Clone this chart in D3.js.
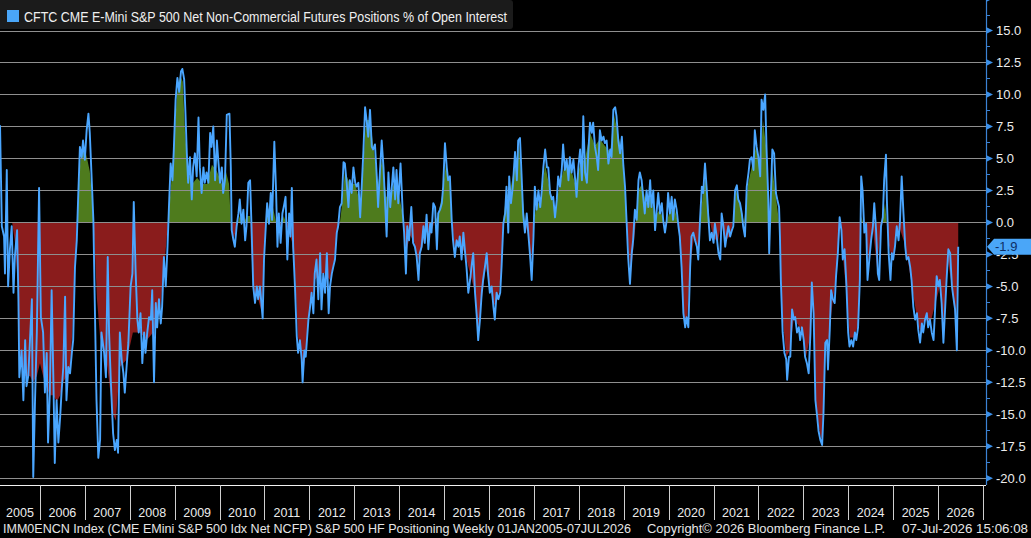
<!DOCTYPE html>
<html>
<head>
<meta charset="utf-8">
<script src="https://cdn.jsdelivr.net/npm/d3@7"></script>
<style>
  body { margin: 0; background: #000; }
  svg { display: block; }
</style>
</head>
<body>
<svg id="chart" width="1031" height="538"></svg>
<script>
// weekly net non-commercial position, % of open interest (decimal year -> value)
const obsYears = [
  2005.11, 2005.15, 2005.20, 2005.22, 2005.26, 2005.29, 2005.33, 2005.37, 2005.41, 2005.44, 2005.49, 2005.52,
  2005.54, 2005.59, 2005.63, 2005.67, 2005.70, 2005.74, 2005.82, 2005.85, 2005.89, 2005.93, 2005.98, 2006.02,
  2006.07, 2006.11, 2006.15, 2006.18, 2006.22, 2006.26, 2006.30, 2006.33, 2006.37, 2006.41, 2006.45, 2006.48,
  2006.52, 2006.56, 2006.59, 2006.63, 2006.67, 2006.71, 2006.74, 2006.78, 2006.82, 2006.85, 2006.89, 2006.93,
  2006.96, 2007.00, 2007.04, 2007.08, 2007.11, 2007.15, 2007.19, 2007.22, 2007.26, 2007.30, 2007.34, 2007.37,
  2007.43, 2007.47, 2007.51, 2007.54, 2007.58, 2007.63, 2007.67, 2007.71, 2007.74, 2007.78, 2007.82, 2007.86,
  2007.89, 2007.93, 2007.97, 2008.02, 2008.06, 2008.09, 2008.13, 2008.17, 2008.20, 2008.24, 2008.28, 2008.32,
  2008.35, 2008.39, 2008.43, 2008.47, 2008.50, 2008.54, 2008.58, 2008.61, 2008.65, 2008.69, 2008.72, 2008.76,
  2008.80, 2008.84, 2008.87, 2008.91, 2008.95, 2008.98, 2009.02, 2009.06, 2009.10, 2009.14, 2009.17, 2009.21,
  2009.24, 2009.27, 2009.30, 2009.34, 2009.38, 2009.41, 2009.45, 2009.49, 2009.53, 2009.56, 2009.60, 2009.64,
  2009.67, 2009.71, 2009.75, 2009.79, 2009.82, 2009.86, 2009.90, 2009.94, 2009.97, 2010.01, 2010.05, 2010.08,
  2010.12, 2010.16, 2010.22, 2010.25, 2010.27, 2010.31, 2010.34, 2010.38, 2010.42, 2010.45, 2010.49, 2010.53,
  2010.57, 2010.60, 2010.64, 2010.68, 2010.71, 2010.75, 2010.79, 2010.83, 2010.86, 2010.90, 2010.96, 2010.99,
  2011.03, 2011.06, 2011.10, 2011.14, 2011.17, 2011.22, 2011.26, 2011.29, 2011.32, 2011.36, 2011.40, 2011.43,
  2011.47, 2011.51, 2011.55, 2011.58, 2011.61, 2011.64, 2011.68, 2011.72, 2011.75, 2011.79, 2011.83, 2011.85,
  2011.89, 2011.92, 2011.98, 2012.01, 2012.05, 2012.09, 2012.12, 2012.16, 2012.20, 2012.24, 2012.27, 2012.31,
  2012.35, 2012.39, 2012.43, 2012.46, 2012.50, 2012.53, 2012.57, 2012.61, 2012.64, 2012.68, 2012.72, 2012.76,
  2012.79, 2012.83, 2012.87, 2012.90, 2012.94, 2012.98, 2013.02, 2013.05, 2013.09, 2013.13, 2013.16, 2013.20,
  2013.24, 2013.28, 2013.31, 2013.35, 2013.39, 2013.42, 2013.46, 2013.50, 2013.53, 2013.57, 2013.61, 2013.65,
  2013.68, 2013.72, 2013.76, 2013.80, 2013.83, 2013.87, 2013.91, 2013.94, 2013.98, 2014.03, 2014.08, 2014.11,
  2014.15, 2014.18, 2014.22, 2014.27, 2014.31, 2014.35, 2014.39, 2014.43, 2014.46, 2014.50, 2014.54, 2014.57,
  2014.61, 2014.65, 2014.69, 2014.72, 2014.76, 2014.80, 2014.84, 2014.87, 2014.91, 2014.95, 2014.98, 2015.02,
  2015.06, 2015.09, 2015.13, 2015.17, 2015.20, 2015.24, 2015.28, 2015.32, 2015.35, 2015.39, 2015.43, 2015.47,
  2015.50, 2015.54, 2015.58, 2015.62, 2015.65, 2015.69, 2015.73, 2015.76, 2015.80, 2015.84, 2015.87, 2015.91,
  2015.95, 2015.98, 2016.02, 2016.06, 2016.10, 2016.13, 2016.17, 2016.21, 2016.25, 2016.28, 2016.32, 2016.36,
  2016.39, 2016.43, 2016.45, 2016.49, 2016.53, 2016.58, 2016.62, 2016.65, 2016.69, 2016.73, 2016.76, 2016.80,
  2016.84, 2016.88, 2016.91, 2016.95, 2016.99, 2017.02, 2017.06, 2017.10, 2017.14, 2017.17, 2017.21, 2017.25,
  2017.29, 2017.32, 2017.36, 2017.40, 2017.43, 2017.47, 2017.51, 2017.54, 2017.58, 2017.62, 2017.65, 2017.69,
  2017.73, 2017.77, 2017.80, 2017.84, 2017.88, 2017.92, 2017.95, 2017.99, 2018.03, 2018.07, 2018.10, 2018.14,
  2018.18, 2018.21, 2018.25, 2018.29, 2018.32, 2018.36, 2018.40, 2018.43, 2018.47, 2018.51, 2018.55, 2018.58,
  2018.62, 2018.66, 2018.70, 2018.73, 2018.77, 2018.81, 2018.84, 2018.88, 2018.92, 2018.96, 2018.99, 2019.03,
  2019.07, 2019.10, 2019.14, 2019.18, 2019.21, 2019.25, 2019.29, 2019.33, 2019.36, 2019.40, 2019.44, 2019.47,
  2019.51, 2019.55, 2019.59, 2019.62, 2019.66, 2019.70, 2019.73, 2019.77, 2019.81, 2019.85, 2019.88, 2019.92,
  2019.96, 2019.99, 2020.03, 2020.07, 2020.10, 2020.14, 2020.18, 2020.22, 2020.25, 2020.29, 2020.33, 2020.37,
  2020.40, 2020.44, 2020.48, 2020.51, 2020.55, 2020.59, 2020.63, 2020.66, 2020.70, 2020.74, 2020.77, 2020.81,
  2020.85, 2020.88, 2020.92, 2020.96, 2021.00, 2021.03, 2021.07, 2021.11, 2021.15, 2021.18, 2021.22, 2021.26,
  2021.29, 2021.33, 2021.37, 2021.41, 2021.44, 2021.48, 2021.52, 2021.55, 2021.59, 2021.63, 2021.66, 2021.70,
  2021.74, 2021.78, 2021.81, 2021.85, 2021.89, 2021.92, 2021.96, 2022.00, 2022.04, 2022.07, 2022.11, 2022.15,
  2022.18, 2022.22, 2022.24, 2022.27, 2022.31, 2022.35, 2022.39, 2022.42, 2022.46, 2022.48, 2022.50, 2022.54,
  2022.58, 2022.62, 2022.64, 2022.68, 2022.71, 2022.75, 2022.79, 2022.82, 2022.86, 2022.90, 2022.93, 2022.97,
  2023.01, 2023.04, 2023.08, 2023.12, 2023.16, 2023.19, 2023.23, 2023.27, 2023.31, 2023.34, 2023.38, 2023.42,
  2023.45, 2023.49, 2023.53, 2023.55, 2023.59, 2023.62, 2023.66, 2023.70, 2023.73, 2023.77, 2023.81, 2023.85,
  2023.88, 2023.92, 2023.96, 2024.00, 2024.03, 2024.07, 2024.11, 2024.15, 2024.18, 2024.22, 2024.26, 2024.29,
  2024.32, 2024.36, 2024.40, 2024.43, 2024.47, 2024.51, 2024.55, 2024.58, 2024.62, 2024.66, 2024.69, 2024.73,
  2024.77, 2024.80, 2024.84, 2024.86, 2024.90, 2024.94, 2024.97, 2025.00, 2025.04, 2025.08, 2025.12, 2025.15,
  2025.19, 2025.23, 2025.27, 2025.30, 2025.34, 2025.38, 2025.41, 2025.45, 2025.49, 2025.53, 2025.56, 2025.60,
  2025.64, 2025.67, 2025.71, 2025.75, 2025.78, 2025.82, 2025.86, 2025.90, 2025.93, 2025.97, 2026.01, 2026.04,
  2026.08, 2026.12, 2026.16, 2026.19, 2026.23, 2026.27, 2026.31, 2026.34, 2026.38, 2026.42, 2026.45
];
const netPct = [
  7.6, -0.3, -1.1, -4.0, 4.1, -5.0, -2.1, -0.3, -5.5, -2.7, -0.6, -6.0,
  -12.1, -10.0, -13.9, -9.2, -12.8, -12.0, -6.0, -19.9, -13.9, -8.6, 2.7, -7.4,
  -8.6, -13.3, -10.2, -17.2, -13.3, -5.3, -12.5, -18.8, -13.9, -17.2, -15.2, -13.3,
  -11.3, -5.8, -13.9, -11.3, -11.8, -10.2, -9.2, -3.5, -1.4, 1.8, 5.9, 5.1,
  6.4, 4.9, 7.2, 8.5, 7.0, 3.6, 0.2, -6.0, -13.9, -18.4, -17.0, -8.6,
  -10.2, -12.1, -2.7, -8.6, -12.5, -16.5, -17.8, -17.0, -18.0, -8.6, -10.7, -11.8,
  -13.3, -11.3, -9.4, -5.0, -4.0, 1.6, -3.7, -7.6, -8.6, -7.1, -11.0, -8.6,
  -10.2, -8.6, -7.4, -7.6, -5.3, -12.5, -6.3, -8.2, -6.0, -7.9, -6.6, -2.7,
  -5.0, -1.9, 1.0, 4.6, 3.3, 5.7, 9.6, 11.3, 10.2, 11.8, 12.0, 11.2,
  8.5, 5.4, 3.1, 5.1, 1.8, 4.3, 5.4, 3.6, 8.2, 4.3, 2.3, 4.3,
  3.1, 3.9, 3.1, 7.0, 5.9, 7.5, 3.3, 6.4, 4.9, 3.1, 4.3, 2.3,
  3.3, 8.4, 8.5, 4.3, -0.6, -1.4, -1.9, -0.3, 0.7, 1.8, -0.1, 1.0,
  -1.4, -0.3, 3.1, 3.3, -0.1, -5.0, -6.3, -5.0, -6.0, -5.0, -7.5, -2.9,
  -0.3, 1.5, -0.1, 2.3, 0.2, 6.3, 2.3, -1.9, 0.7, -1.6, 0.7, 1.2,
  2.0, -2.9, 0.7, -1.1, 2.7, -1.9, -5.0, -8.9, -10.2, -9.2, -10.7, -12.5,
  -10.0, -10.5, -7.6, -6.8, -5.5, -7.1, -4.0, -2.9, -6.0, -2.4, -6.8, -4.0,
  -5.5, -2.4, -7.1, -5.0, -4.0, -3.5, -2.9, -0.8, -0.3, 1.2, 1.5, 4.7,
  4.6, 3.1, 1.2, 3.3, 2.3, 4.3, 3.1, 2.8, 3.1, 0.4, 2.5, 5.4,
  9.0, 7.8, 6.7, 8.8, 5.9, 5.7, 6.1, 3.6, 1.2, 3.9, 6.4, 4.3,
  2.0, -1.1, 3.9, 1.2, 2.5, 4.3, 1.8, 4.1, 1.5, 4.6, 0.7, -0.8,
  -4.0, -0.3, -1.4, 1.2, -1.6, -1.9, -2.7, -4.5, -2.4, -1.9, -0.3, -1.6,
  0.6, -2.1, -0.1, -0.8, 1.5, 1.2, -2.1, 0.7, 1.0, 1.5, 2.8, 6.2,
  4.3, 3.3, 3.6, 0.2, -1.4, -2.7, -1.4, -1.9, -1.1, -2.9, -0.8, -2.4,
  -3.5, -5.5, -4.5, -3.2, -2.4, -5.5, -7.4, -9.2, -7.6, -5.5, -4.5, -3.5,
  -2.4, -4.0, -5.5, -5.0, -6.6, -7.6, -5.5, -6.0, -5.5, -3.5, -0.1, 0.7,
  2.8, -0.8, 3.6, 1.5, 2.8, 5.5, 3.3, 6.4, 6.6, 3.3, 0.7, -0.8,
  0.7, -1.1, -2.4, -4.5, -1.1, 2.8, 1.0, 2.5, 1.2, 2.3, 4.3, 5.7,
  4.3, 4.3, 2.3, 1.8, 2.0, 0.4, 1.8, 3.6, 2.8, 4.1, 6.1, 4.1,
  4.9, 3.3, 5.1, 3.9, 4.9, 3.3, 2.0, 4.3, 5.7, 3.3, 8.3, 3.9,
  3.1, 5.4, 7.8, 7.0, 7.8, 5.9, 5.1, 4.1, 7.2, 6.4, 6.7, 6.2,
  6.4, 4.6, 5.7, 5.1, 8.8, 9.0, 8.3, 6.4, 5.4, 6.7, 4.6, 2.8,
  -0.3, -2.7, -4.8, -2.4, -1.4, 1.0, 0.2, 3.3, 3.9, 3.3, 1.8, 0.7,
  2.5, 1.2, 3.3, 1.2, 2.5, -0.6, 0.7, 2.3, 0.7, 1.5, 0.2, -0.8,
  0.2, 2.3, 0.7, 2.0, 0.2, 1.8, 1.0, -0.3, -1.1, -3.5, -7.1, -8.2,
  -7.4, -8.2, -3.5, -1.1, -0.8, -1.4, -1.9, -2.9, 0.2, 2.8, 2.3, 4.6,
  2.5, 0.7, -1.4, -0.8, -1.6, -0.1, -1.1, -2.4, -2.9, 0.7, -0.3, -1.9,
  -1.1, -0.3, -1.1, -0.6, -0.3, 2.5, 2.9, 1.8, 1.5, 0.7, -0.3, -1.1,
  2.8, 3.9, 4.9, 5.1, 4.1, 7.2, 5.9, 5.1, 3.6, 9.6, 8.8, 10.0,
  5.9, 1.8, -2.4, 1.2, 5.7, 5.4, 2.3, 1.8, 1.2, -1.1, -4.5, -8.6,
  -10.2, -10.7, -12.3, -10.5, -10.5, -6.8, -7.6, -7.4, -8.6, -8.2, -9.2, -8.2,
  -9.2, -10.5, -11.0, -11.8, -8.6, -4.7, -7.1, -13.9, -15.2, -16.3, -17.0, -17.4,
  -14.9, -9.4, -9.2, -11.5, -8.4, -5.3, -6.0, -6.3, -4.2, -2.4, 0.4, -0.6,
  -2.9, -2.1, -4.8, -8.6, -9.7, -9.2, -9.7, -8.6, -9.2, -8.2, -4.5, 3.6,
  2.5, -0.8, -0.1, -4.5, -2.9, -1.4, -0.3, 1.5, -0.6, -4.0, -4.5, -0.3,
  0.4, 3.3, 5.3, 1.8, -2.4, -4.5, -2.4, -2.9, -1.9, -0.3, -1.4, -0.1,
  3.6, 0.7, -1.9, -2.9, -2.7, -3.5, -4.5, -6.6, -7.6, -7.1, -8.4, -9.4,
  -7.9, -8.6, -7.6, -7.1, -8.2, -7.6, -8.6, -9.2, -7.1, -4.2, -5.0, -4.5,
  -6.3, -9.4, -6.6, -4.5, -2.1, -2.4, -5.0, -5.8, -6.8, -10.0, -1.9
];

// smoother positioning series drawn as the red / green area
const fillYears = [
  2005.11, 2005.33, 2005.38, 2005.44, 2005.51, 2005.55, 2005.62, 2005.71, 2005.78, 2005.84, 2005.93, 2006.00,
  2006.07, 2006.16, 2006.22, 2006.29, 2006.38, 2006.45, 2006.51, 2006.60, 2006.67, 2006.73, 2006.78, 2006.82,
  2006.87, 2006.91, 2006.98, 2007.05, 2007.11, 2007.16, 2007.19, 2007.22, 2007.27, 2007.34, 2007.49, 2007.63,
  2007.69, 2007.78, 2007.94, 2008.07, 2008.23, 2008.38, 2008.52, 2008.67, 2008.78, 2008.85, 2008.92, 2008.98,
  2009.05, 2009.12, 2009.18, 2009.23, 2009.30, 2009.39, 2009.50, 2009.61, 2009.72, 2009.83, 2009.94, 2010.05,
  2010.14, 2010.21, 2010.25, 2010.30, 2010.37, 2010.45, 2010.54, 2010.61, 2010.68, 2010.70, 2010.77, 2010.86,
  2010.94, 2010.99, 2011.03, 2011.08, 2011.17, 2011.26, 2011.35, 2011.43, 2011.52, 2011.61, 2011.68, 2011.75,
  2011.81, 2011.86, 2011.92, 2012.01, 2012.12, 2012.24, 2012.35, 2012.46, 2012.55, 2012.61, 2012.68, 2012.73,
  2012.79, 2012.90, 2013.02, 2013.13, 2013.19, 2013.26, 2013.35, 2013.44, 2013.53, 2013.62, 2013.71, 2013.80,
  2013.88, 2013.97, 2014.06, 2014.11, 2014.15, 2014.24, 2014.33, 2014.42, 2014.51, 2014.60, 2014.69, 2014.78,
  2014.86, 2014.95, 2015.04, 2015.13, 2015.18, 2015.24, 2015.35, 2015.47, 2015.58, 2015.69, 2015.76, 2015.84,
  2015.93, 2016.02, 2016.11, 2016.20, 2016.27, 2016.31, 2016.38, 2016.47, 2016.58, 2016.67, 2016.73, 2016.80,
  2016.87, 2016.94, 2016.98, 2017.05, 2017.14, 2017.25, 2017.36, 2017.47, 2017.58, 2017.69, 2017.80, 2017.92,
  2018.03, 2018.14, 2018.25, 2018.36, 2018.47, 2018.58, 2018.70, 2018.78, 2018.87, 2018.96, 2019.03, 2019.07,
  2019.12, 2019.16, 2019.23, 2019.27, 2019.32, 2019.41, 2019.50, 2019.59, 2019.70, 2019.81, 2019.90, 2019.94,
  2020.03, 2020.14, 2020.21, 2020.28, 2020.34, 2020.41, 2020.48, 2020.57, 2020.66, 2020.70, 2020.77, 2020.83,
  2020.90, 2020.99, 2021.10, 2021.17, 2021.26, 2021.37, 2021.43, 2021.50, 2021.59, 2021.68, 2021.77, 2021.86,
  2021.95, 2022.04, 2022.10, 2022.17, 2022.24, 2022.30, 2022.39, 2022.46, 2022.53, 2022.62, 2022.70, 2022.79,
  2022.88, 2022.97, 2023.06, 2023.15, 2023.22, 2023.28, 2023.37, 2023.42, 2023.48, 2023.57, 2023.66, 2023.75,
  2023.82, 2023.88, 2023.97, 2024.04, 2024.13, 2024.22, 2024.29, 2024.37, 2024.46, 2024.55, 2024.64, 2024.73,
  2024.82, 2024.89, 2024.98, 2025.07, 2025.15, 2025.24, 2025.33, 2025.42, 2025.51, 2025.60, 2025.71, 2025.82,
  2025.93, 2026.04, 2026.13, 2026.22, 2026.31, 2026.40, 2026.45
];
const fillPct = [
  0, 0, 0, -1.5, -5, -10, -12, -12, -12, -12.5, -12, -11,
  -12, -13, -13.5, -13.5, -14, -13.5, -12.5, -12, -11.5, -8, -4, 0,
  3, 5.5, 6, 5, 4, 2, 0, -2, -6, -9, -11, -15,
  -15.5, -11.3, -10.7, -8.6, -8.6, -9.2, -8.6, -7, -3, 0, 3, 6,
  10, 11.5, 11, 7, 4, 3, 3.5, 3, 3, 4.5, 4, 3,
  4, 3, 0, -1.5, -0.5, 0.5, 0, 0.5, 0.5, -2, -5.5, -6,
  -7, -3, 0, 1, 1.5, 0, -0.5, 0.5, -0.5, -1.5, -4, -9,
  -10, -12, -10, -7, -4.5, -4, -4, -4.5, -3, -1, 0, 1.5,
  4, 3, 3, 1.5, 4, 8, 8, 5.5, 3, 5, 2, 2,
  3, 2.5, 1, 0, -2.5, -1, -1.5, -3, -2, -0.5, -1, 0,
  0.5, 2, 4.5, 3, 0, -2, -1.5, -2.5, -4, -5.5, -8.5, -6,
  -3.5, -5, -6.5, -6, -4, 0, 2, 2.5, 4.5, 6, 3, 0,
  -1, -3, -1, 1.5, 1.5, 4.5, 2.5, 1, 3, 4.5, 4.5, 3,
  4.5, 5, 7, 6, 6.5, 6, 5.5, 8.5, 7, 5.5, 2.5, 0,
  -2.5, -4, -1.5, 0, 2.5, 3, 1.5, 2, 0.5, 1, 0, -0.3,
  1, 1, 0, -3, -7.5, -7.8, -3.5, -1, -2, 0, 2.5, 3.5,
  0.5, -1.2, -1.5, 0, -1.5, -1, 0, 2.5, 1.5, 0, 3, 4.5,
  6, 4, 8, 6, 0, 4.5, 2, 0, -7, -10.5, -10, -7.5,
  -8, -8.5, -10.5, -9, -6, -14, -16.5, -17, -10, -9, -6, -4,
  0, -2.5, -6, -9, -9, -8, 0.5, -0.5, -3, -0.5, -3.5, -0.5,
  1.5, -1.5, -3, -1, -0.5, -1.5, -3, -5, -7, -8.5, -7.5, -8,
  -6.5, -5, -8, -3, -5, -8, -2
];

const yTicks = [15, 12.5, 10, 7.5, 5, 2.5, 0, -2.5, -5, -7.5, -10, -12.5, -15, -17.5, -20];
const years = [2005, 2006, 2007, 2008, 2009, 2010, 2011, 2012, 2013, 2014, 2015,
               2016, 2017, 2018, 2019, 2020, 2021, 2022, 2023, 2024, 2025, 2026];
const lastValue = -1.9;
const titleText = "CFTC CME E-Mini S&P 500 Net Non-Commercial Futures Positions % of Open Interest";
const footerParts = [
  "IMM0ENCN Index (CME EMini S&P 500 Idx Net NCFP) S&P 500 HF Positioning Weekly 01JAN2005-07JUL2026",
  "Copyright\u00A9 2026 Bloomberg Finance L.P.",
  "07-Jul-2026 15:06:08"
];

// decimal year -> Date
function toDate(yr) {
  var y0 = Math.floor(yr);
  var a = new Date(y0, 0, 1), b = new Date(y0 + 1, 0, 1);
  return new Date(+a + (yr - y0) * (b - a));
}

var W = 1031, H = 538;
var plotRight = 986, plotBottom = 485;
var font = "'Liberation Sans', Arial, sans-serif";
var narrow = "'Liberation Sans Narrow', 'Arial Narrow', 'Liberation Sans', sans-serif";

var svg = d3.select("#chart");
svg.append("rect").attr("width", W).attr("height", H).attr("fill", "#000");

var x = d3.scaleTime()
  .domain([new Date(2005, 0, 1), new Date(2027, 0, 1)])
  .range([-4.9, 982.9]);
var y = d3.scaleLinear().domain([-20, 15]).range([478.3, 30.5]);

var defs = svg.append("defs");
defs.append("clipPath").attr("id", "plot")
  .append("rect").attr("x", 0).attr("y", 0).attr("width", plotRight).attr("height", plotBottom);
defs.append("clipPath").attr("id", "pos")
  .append("rect").attr("x", 0).attr("y", 0).attr("width", plotRight).attr("height", y(0));
defs.append("clipPath").attr("id", "neg")
  .append("rect").attr("x", 0).attr("y", y(0)).attr("width", plotRight).attr("height", plotBottom - y(0));

// filled area, green above zero and red below
var fillData = fillYears.map(function(yr, i){ return { date: toDate(yr), v: fillPct[i] }; });
var area = d3.area()
  .x(function(d){ return x(d.date); })
  .y0(y(0))
  .y1(function(d){ return y(d.v); });

svg.append("path").datum(fillData)
  .attr("d", area).attr("fill", "#4e7b1d").attr("clip-path", "url(#pos)");
svg.append("path").datum(fillData)
  .attr("d", area).attr("fill", "#8a1c1c").attr("clip-path", "url(#neg)");

// grid
svg.append("g").selectAll("line")
  .data(yTicks)
  .enter()
  .append("line")
    .attr("x1", 0).attr("x2", plotRight)
    .attr("y1", function(d){ return Math.round(y(d)) + 0.5; })
    .attr("y2", function(d){ return Math.round(y(d)) + 0.5; })
    .attr("stroke", "#8f8f8f")
    .attr("stroke-width", 1);

// main line
var lineData = obsYears.map(function(yr, i){ return { date: toDate(yr), v: netPct[i] }; });
var line = d3.line()
  .x(function(d){ return x(d.date); })
  .y(function(d){ return y(d.v); });

svg.append("path").datum(lineData)
  .attr("d", line)
  .attr("fill", "none")
  .attr("stroke", "#4aa6ff")
  .attr("stroke-width", 1.9)
  .attr("stroke-linejoin", "round")
  .attr("clip-path", "url(#plot)");

// right axis
svg.append("line")
  .attr("x1", plotRight + 0.5).attr("x2", plotRight + 0.5)
  .attr("y1", 0).attr("y2", plotBottom)
  .attr("stroke", "#3b82d4").attr("stroke-width", 1.2);

var axis = d3.axisRight(y)
  .tickValues(yTicks)
  .tickSize(0)
  .tickSizeOuter(0)
  .tickPadding(10)
  .tickFormat(function(d){ return d.toFixed(1); });

var ga = svg.append("g")
  .attr("transform", "translate(" + plotRight + ",0)")
  .call(axis);
ga.select(".domain").remove();
ga.selectAll("text")
  .attr("fill", "#ececec")
  .attr("font-family", font)
  .attr("font-size", 13);

// arrow heads on major ticks, small marks on minor ones
var arrowTicks = yTicks.concat([17.5]);
svg.append("g").selectAll("path")
  .data(arrowTicks)
  .enter()
  .append("path")
    .attr("d", function(d){
      var yy = y(d);
      return "M" + plotRight + "," + (yy - 3.5) + "L" + (plotRight + 7) + "," + yy + "L" + plotRight + "," + (yy + 3.5) + "Z";
    })
    .attr("fill", "#3b8fe8");

var minorTicks = yTicks.map(function(d){ return d + 1.25; });
svg.append("g").selectAll("line")
  .data(minorTicks)
  .enter()
  .append("line")
    .attr("x1", plotRight).attr("x2", plotRight + 4)
    .attr("y1", function(d){ return Math.round(y(d)) + 0.5; })
    .attr("y2", function(d){ return Math.round(y(d)) + 0.5; })
    .attr("stroke", "#3b82d4");

// last value tag (sits on top of the -2.5 label, as in the terminal)
var ly = y(lastValue);
svg.append("path")
  .attr("d", "M" + (plotRight + 1) + "," + ly + "L" + (plotRight + 8) + "," + (ly - 8) +
             "L" + W + "," + (ly - 8) + "L" + W + "," + (ly + 8) + "L" + (plotRight + 8) + "," + (ly + 8) + "Z")
  .attr("fill", "#4aa6f8");
svg.append("text")
  .attr("x", 995).attr("y", ly + 4.5)
  .attr("fill", "#0d2f66")
  .attr("font-family", font)
  .attr("font-size", 13)
  .text(lastValue.toFixed(1));

// bottom frame and year boxes
svg.append("line")
  .attr("x1", 0).attr("x2", plotRight)
  .attr("y1", plotBottom + 0.5).attr("y2", plotBottom + 0.5)
  .attr("stroke", "#f2f2f2").attr("stroke-width", 1.2);

var bounds = years.concat([years[years.length - 1] + 1]);
svg.append("g").selectAll("line")
  .data(bounds.slice(1))
  .enter()
  .append("line")
    .attr("x1", function(d){ return Math.round(x(new Date(d, 0, 1))) + 0.5; })
    .attr("x2", function(d){ return Math.round(x(new Date(d, 0, 1))) + 0.5; })
    .attr("y1", plotBottom).attr("y2", 520)
    .attr("stroke", "#cfcfcf").attr("stroke-width", 1);

svg.append("g").selectAll("text")
  .data(years)
  .enter()
  .append("text")
    .attr("x", function(d){
      var a = Math.max(0, x(new Date(d, 0, 1))), b = x(new Date(d + 1, 0, 1));
      return (a + b) / 2;
    })
    .attr("y", 517)
    .attr("text-anchor", "middle")
    .attr("fill", "#ececec")
    .attr("font-family", font)
    .attr("font-size", 12.5)
    .text(function(d){ return d; });

// footer
var footX = [3, 647, 902];
var footW = [628, 238, 126];
svg.append("g").selectAll("text")
  .data(footerParts)
  .enter()
  .append("text")
    .attr("x", function(d, i){ return footX[i]; })
    .attr("y", 533)
    .attr("fill", "#e6e6e6")
    .attr("font-family", font)
    .attr("font-size", 12.5)
    .attr("textLength", function(d, i){ return footW[i]; })
    .attr("lengthAdjust", "spacingAndGlyphs")
    .text(function(d){ return d; });

// title box
svg.append("rect")
  .attr("x", -4).attr("y", 0).attr("width", 517).attr("height", 29).attr("rx", 3)
  .attr("fill", "#1b1b1b");
svg.append("rect")
  .attr("x", 7).attr("y", 10).attr("width", 12).attr("height", 12)
  .attr("fill", "#4aa6f8");
svg.append("text")
  .attr("x", 24).attr("y", 21.5)
  .attr("fill", "#f0f0f0")
  .attr("font-family", narrow)
  .attr("font-size", 14)
  .attr("textLength", 483)
  .attr("lengthAdjust", "spacingAndGlyphs")
  .text(titleText);
</script>
</body>
</html>
